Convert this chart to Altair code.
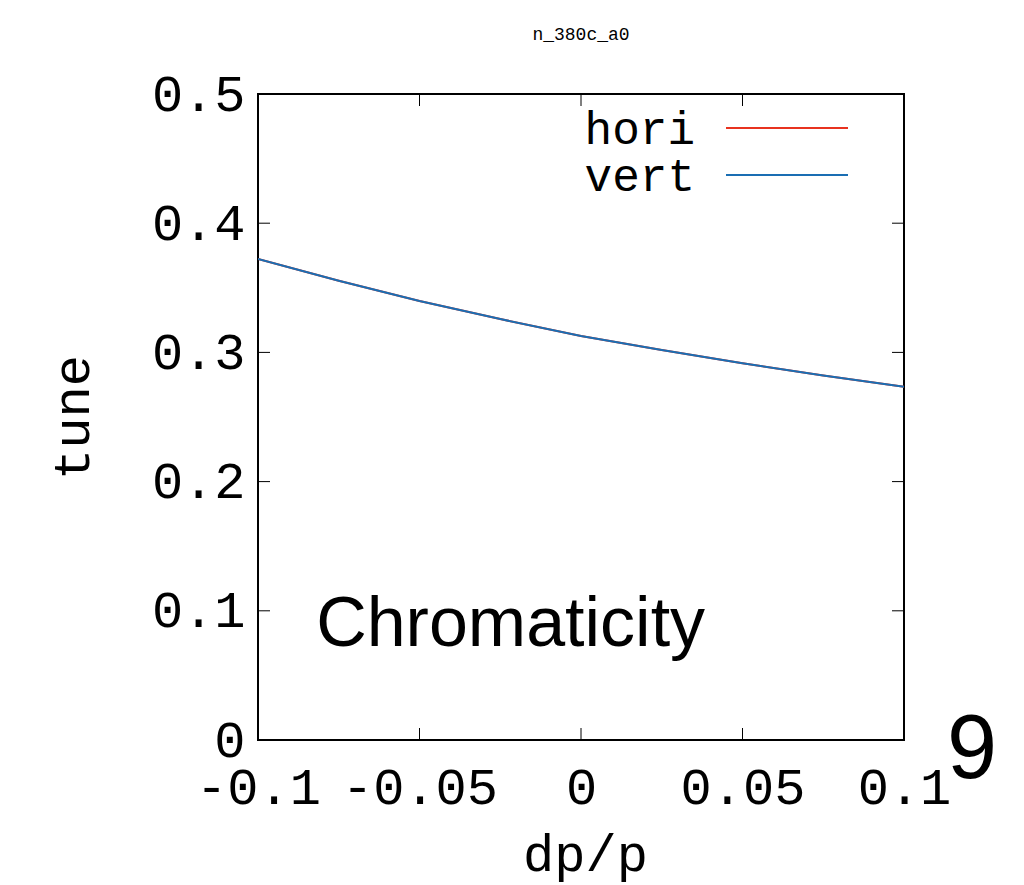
import altair as alt
import pandas as pd

# ---- data ----
dpp = [-0.1, -0.075, -0.05, -0.025, 0.0, 0.025, 0.05, 0.075, 0.1]
hori = [0.3723, 0.3555, 0.3398, 0.3258, 0.3127, 0.3018, 0.2916, 0.2822, 0.2735]
vert = [0.3723, 0.3555, 0.3398, 0.3258, 0.3127, 0.3018, 0.2916, 0.2822, 0.2735]
series_names = ["hori", "vert"]
series_colors = ["#e8321f", "#1a6eb3"]
x_ticks = [-0.1, -0.05, 0, 0.05, 0.1]
y_ticks = [0, 0.1, 0.2, 0.3, 0.4, 0.5]
title_text = "n_380c_a0"
annot_text = "Chromaticity"
annot_x = [-0.082]
annot_y = [0.0725]
corner_text = "9"

W = 646
H = 646
MONO = "Liberation Mono"
SANS = "Liberation Sans"

rows = []
for name, vals in zip(series_names, [hori, vert]):
    for xv, yv in zip(dpp, vals):
        rows.append({"dpp": xv, "tune": yv, "series": name})
df = pd.DataFrame(rows)

xscale = alt.Scale(domain=[-0.1, 0.1], nice=False, zero=False)
yscale = alt.Scale(domain=[0, 0.5], nice=False, zero=False)

xaxis = alt.Axis(values=x_ticks, labelExpr="'' + datum.value", ticks=False, domain=False,
                 grid=False, labelFont=MONO, labelFontSize=52, labelPadding=22,
                 labelColor="black", title="dp/p", titleFont=MONO, titleFontSize=52,
                 titleFontWeight="normal", titleColor="black", titleX=327, titleY=114,
                 titleAlign="center", titleBaseline="middle", labelFlush=False)
yaxis = alt.Axis(values=y_ticks, labelExpr="'' + datum.value", ticks=False, domain=False,
                 grid=False, labelFont=MONO, labelFontSize=52, labelPadding=13,
                 labelColor="black", title="tune", titleFont=MONO, titleFontSize=52,
                 titleFontWeight="normal", titleColor="black", titleX=-186, titleY=323,
                 titleAngle=-90, titleAlign="center", titleBaseline="middle", labelFlush=False)

lines = alt.Chart(df).mark_line(strokeWidth=2, clip=True).encode(
    x=alt.X("dpp:Q", scale=xscale, axis=xaxis),
    y=alt.Y("tune:Q", scale=yscale, axis=yaxis),
    color=alt.Color("series:N", scale=alt.Scale(domain=series_names, range=series_colors), legend=None),
    order=alt.Order("dpp:Q"),
)

xt = pd.DataFrame({"v": x_ticks})
yt = pd.DataFrame({"v": y_ticks})
tick_layers = [
    alt.Chart(yt).mark_rule(color="black", strokeWidth=1).encode(
        y=alt.Y("v:Q", scale=yscale), x=alt.value(0), x2=alt.value(12)),
    alt.Chart(yt).mark_rule(color="black", strokeWidth=1).encode(
        y=alt.Y("v:Q", scale=yscale), x=alt.value(W - 12), x2=alt.value(W)),
    alt.Chart(xt).mark_rule(color="black", strokeWidth=1).encode(
        x=alt.X("v:Q", scale=xscale), y=alt.value(H - 12), y2=alt.value(H)),
    alt.Chart(xt).mark_rule(color="black", strokeWidth=1).encode(
        x=alt.X("v:Q", scale=xscale), y=alt.value(0), y2=alt.value(12)),
]

# legend (label left, line sample right, as in the reference)
legend_layers = []
for i, (name, col) in enumerate(zip(series_names, series_colors)):
    ldf = pd.DataFrame({"series": [name]})
    legend_layers.append(
        alt.Chart(ldf).mark_text(font=MONO, fontSize=46, align="right", baseline="alphabetic",
                                 color="black").encode(
            text="series:N", x=alt.value(437), y=alt.value(50 + 47 * i)))
    legend_layers.append(
        alt.Chart(ldf).mark_rule(color=col, strokeWidth=2).encode(
            x=alt.value(468), x2=alt.value(590), y=alt.value(34 + 47 * i)))

annot = alt.Chart(pd.DataFrame({"x": annot_x, "y": annot_y, "t": [annot_text]})).mark_text(
    font=SANS, fontSize=70, align="left", baseline="alphabetic", color="black").encode(
    x=alt.X("x:Q", scale=xscale), y=alt.Y("y:Q", scale=yscale), text="t:N")

corner = alt.Chart(pd.DataFrame({"t": [corner_text]})).mark_text(
    font=SANS, fontSize=90, align="center", baseline="alphabetic", color="black").encode(
    x=alt.value(714), y=alt.value(684), text="t:N")

chart = alt.layer(lines, *tick_layers, *legend_layers, annot, corner).properties(
    width=W, height=H,
    background="white",
    title=alt.TitleParams(title_text, font=MONO, fontSize=18, fontWeight="normal",
                          color="black", anchor="middle", offset=24),
    autosize=alt.AutoSizeParams(type="none"),
    padding={"left": 250, "top": 86, "right": 110, "bottom": 150},
).configure_view(stroke="black", strokeWidth=2)

chart.save("out.html", embed_options={"renderer": "svg", "actions": False})
